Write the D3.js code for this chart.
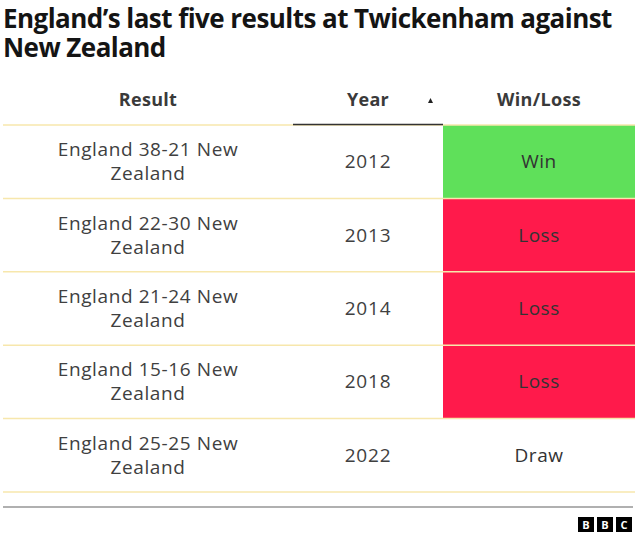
<!DOCTYPE html>
<html>
<head>
<meta charset="utf-8">
<script src="https://cdn.jsdelivr.net/npm/d3@7"></script>
<style>
  body { margin: 0; background: #fff; }
  #grafico { position: relative; width: 640px; height: 538px; }
  #titulo { position: absolute; left: 3px; top: 4px; margin: 0; font-family: "Open Sans", "Noto Sans", sans-serif;
    font-size: 26px; font-weight: 700; letter-spacing: -0.55px; line-height: 29px; color: #141414; }
  #svg { position: absolute; left: 0; top: 0; width: 640px; height: 538px; }
  text { font-family: "Open Sans", "Noto Sans", sans-serif; }
</style>
</head>
<body>
<div id="grafico">
  <div id="svg"></div>
  <div id="titulo"></div>
</div>
<script>
// datos de la tabla
const titulo = ["England\u2019s last five results at Twickenham against", "New Zealand"];
const columnas = ["Result", "Year", "Win/Loss"];
const resultados = ["England 38-21 New Zealand", "England 22-30 New Zealand", "England 21-24 New Zealand",
    "England 15-16 New Zealand", "England 25-25 New Zealand"];
const anios = [2012, 2013, 2014, 2018, 2022];
const ganador = ["Win", "Loss", "Loss", "Loss", "Draw"];

const width = 640;
const height = 538;

// titulo como bloque de texto
d3.select("#titulo").html(titulo.join("<br>"));

const svg = d3.select("#svg")
    .append("svg")
    .attr("width", width)
    .attr("height", height);

// colores segun resultado
const colores = d3.scaleOrdinal()
    .domain(["Win", "Loss", "Draw"])
    .range(["#5fe05a", "#ff1a4b", "#ffffff"]);

// bordes de columnas
const bordes = [3, 293, 443, 635];
const x = d3.scaleOrdinal().domain(columnas).range(bordes.slice(0, 3));
const ancho = (c) => bordes[columnas.indexOf(c) + 1] - bordes[columnas.indexOf(c)];

const y = d3.scaleBand()
    .domain(anios)
    .range([125, 492]);

// encabezado
svg.append("g")
    .selectAll("text")
    .data(columnas)
    .join("text")
    .attr("x", (d) => x(d) + ancho(d) / 2)
    .attr("y", 106)
    .attr("text-anchor", "middle")
    .attr("font-size", 18)
    .attr("font-weight", 700)
    .attr("letter-spacing", 0.3)
    .attr("fill", "#3a3a3a")
    .text((d) => d);

// flecha de orden
svg.append("path")
    .attr("d", "M428,103 L433,103 L430.5,98 Z")
    .attr("fill", "#222");

// celdas de color
svg.append("g")
    .selectAll("rect")
    .data(anios)
    .join("rect")
    .attr("x", x("Win/Loss"))
    .attr("y", (d) => y(d))
    .attr("width", ancho("Win/Loss"))
    .attr("height", y.bandwidth())
    .attr("fill", (d, i) => colores(ganador[i]));

// lineas de filas
svg.append("g")
    .attr("stroke", "#f7e7ac")
    .attr("stroke-width", 1.5)
    .selectAll("line")
    .data(anios)
    .join("line")
    .attr("x1", bordes[0])
    .attr("x2", bordes[3])
    .attr("y1", (d) => y(d) + y.bandwidth())
    .attr("y2", (d) => y(d) + y.bandwidth());

// linea bajo encabezado
svg.append("line")
    .attr("x1", bordes[0]).attr("x2", bordes[3])
    .attr("y1", 125).attr("y2", 125)
    .attr("stroke", "#f7e7ac").attr("stroke-width", 1.5);
svg.append("line")
    .attr("x1", x("Year")).attr("x2", x("Year") + ancho("Year"))
    .attr("y1", 124.5).attr("y2", 124.5)
    .attr("stroke", "#333").attr("stroke-width", 1.5);

// texto de resultados (dos lineas)
const filas = svg.append("g")
    .selectAll("g")
    .data(anios)
    .join("g")
    .attr("transform", (d) => `translate(0,${y(d) + y.bandwidth() / 2})`);

filas.append("text")
    .attr("x", x("Result") + ancho("Result") / 2)
    .attr("text-anchor", "middle")
    .attr("font-size", 19)
    .attr("letter-spacing", 0.6)
    .attr("fill", "#404040")
    .selectAll("tspan")
    .data((d, i) => {
        const partes = resultados[i].split(" ");
        return [partes.slice(0, 3).join(" "), partes.slice(3).join(" ")];
    })
    .join("tspan")
    .attr("x", x("Result") + ancho("Result") / 2)
    .attr("y", (d, i) => -5.5 + i * 24)
    .text((d) => d);

filas.append("text")
    .attr("x", x("Year") + ancho("Year") / 2)
    .attr("y", 6.5)
    .attr("text-anchor", "middle")
    .attr("font-size", 19)
    .attr("letter-spacing", 0.8)
    .attr("fill", "#404040")
    .text((d) => d);

filas.append("text")
    .attr("x", x("Win/Loss") + ancho("Win/Loss") / 2)
    .attr("y", 6.5)
    .attr("text-anchor", "middle")
    .attr("font-size", 19)
    .attr("letter-spacing", 0.5)
    .attr("fill", "#333")
    .text((d, i) => ganador[i]);

// pie
svg.append("line")
    .attr("x1", 3).attr("x2", 633)
    .attr("y1", 507).attr("y2", 507)
    .attr("stroke", "#b0b0b0").attr("stroke-width", 2);

const logo = svg.append("g").attr("transform", "translate(578,517)");
logo.selectAll("rect")
    .data(["B", "B", "C"])
    .join("rect")
    .attr("x", (d, i) => i * 19)
    .attr("width", 16)
    .attr("height", 15)
    .attr("fill", "#000");
logo.selectAll("text")
    .data(["B", "B", "C"])
    .join("text")
    .attr("x", (d, i) => i * 19 + 8)
    .attr("y", 12)
    .attr("text-anchor", "middle")
    .attr("font-size", 11)
    .attr("font-weight", 700)
    .attr("fill", "#fff")
    .text((d) => d);
</script>
</body>
</html>
